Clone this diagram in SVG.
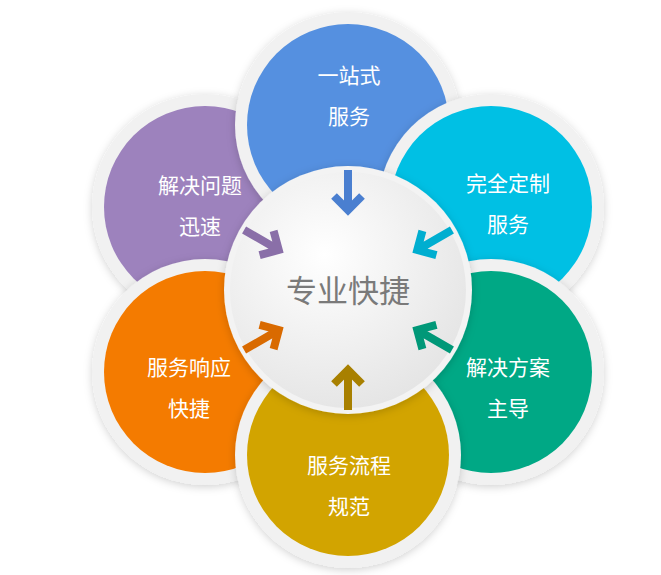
<svg xmlns="http://www.w3.org/2000/svg" width="661" height="575" viewBox="0 0 661 575">
<defs>
<filter id="sh" x="-20%" y="-20%" width="140%" height="140%"><feDropShadow dx="0" dy="2" stdDeviation="4" flood-color="#000" flood-opacity="0.18"/></filter>
<radialGradient id="cg" cx="0.4" cy="0.35" r="0.7"><stop offset="0" stop-color="#ffffff"/><stop offset="1" stop-color="#e4e4e4"/></radialGradient>
<style>
.ring{fill:#f1f1f1;filter:url(#sh)}
.t{font-family:"Noto Sans CJK SC",sans-serif;font-size:21px;fill:#fff;text-anchor:middle}
.ar{fill:none;stroke-width:8}
</style>
</defs>
<g id="n-purple"><circle class="ring" cx="205" cy="207" r="113"/><circle cx="205" cy="207" r="101" fill="#9d82bd"/><text class="t" x="200" y="193">解决问题</text><text class="t" x="200" y="234">迅速</text></g>
<g id="n-blue"><circle class="ring" cx="348" cy="125" r="113"/><circle cx="348" cy="125" r="101" fill="#5590e0"/><text class="t" x="349" y="83">一站式</text><text class="t" x="349" y="124">服务</text></g>
<g id="n-cyan"><circle class="ring" cx="491" cy="207" r="113"/><circle cx="491" cy="207" r="101" fill="#00c0e4"/><text class="t" x="508" y="191">完全定制</text><text class="t" x="508" y="232">服务</text></g>
<g id="n-green"><circle class="ring" cx="491" cy="372" r="113"/><circle cx="491" cy="372" r="101" fill="#00a885"/><text class="t" x="508" y="375">解决方案</text><text class="t" x="508" y="416">主导</text></g>
<g id="n-orange"><circle class="ring" cx="205" cy="372" r="113"/><circle cx="205" cy="372" r="101" fill="#f47b00"/><text class="t" x="189" y="375">服务响应</text><text class="t" x="189" y="416">快捷</text></g>
<g id="n-yellow"><circle class="ring" cx="348" cy="455" r="113"/><circle cx="348" cy="455" r="101" fill="#d2a400"/><text class="t" x="349" y="473">服务流程</text><text class="t" x="349" y="514">规范</text></g>
<g id="n-center"><circle cx="348" cy="290" r="124" fill="#f3f3f3" filter="url(#sh)"/><circle cx="348" cy="290" r="118" fill="url(#cg)"/><text x="348" y="302" text-anchor="middle" font-family="Noto Sans CJK SC,sans-serif" font-size="31" fill="#7a7a7a">专业快捷</text></g>
<g id="connectors">
<g transform="rotate(0 348 290)"><path class="ar" stroke="#4a7fd0" d="M348 170V210M334 196L348 210L362 196"/></g>
<g transform="rotate(60 348 290)"><path class="ar" stroke="#00aed0" d="M348 170V210M334 196L348 210L362 196"/></g>
<g transform="rotate(120 348 290)"><path class="ar" stroke="#009878" d="M348 170V210M334 196L348 210L362 196"/></g>
<g transform="rotate(180 348 290)"><path class="ar" stroke="#a88000" d="M348 170V210M334 196L348 210L362 196"/></g>
<g transform="rotate(240 348 290)"><path class="ar" stroke="#d96a00" d="M348 170V210M334 196L348 210L362 196"/></g>
<g transform="rotate(300 348 290)"><path class="ar" stroke="#8a6fa8" d="M348 170V210M334 196L348 210L362 196"/></g>
</g>
</svg>
